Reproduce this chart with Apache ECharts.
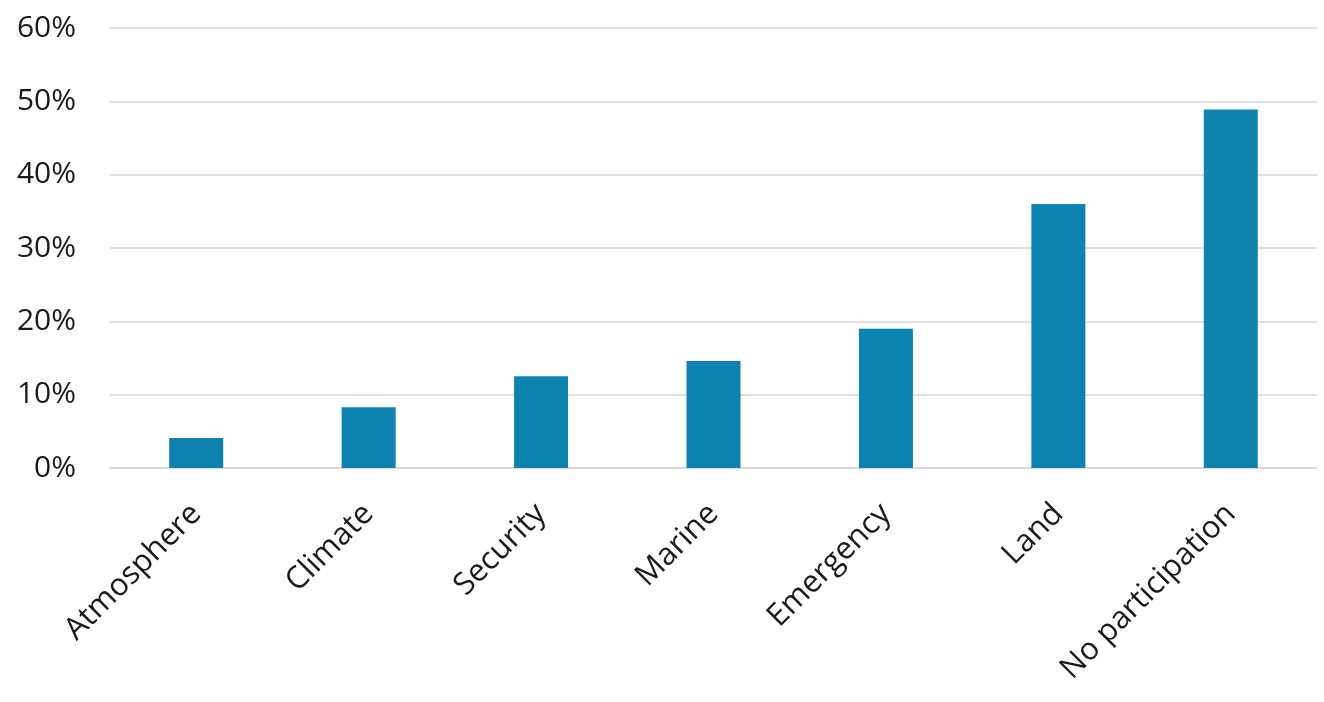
<!DOCTYPE html>
<html>
<head>
<meta charset="utf-8">
<script src="https://cdn.jsdelivr.net/npm/echarts@6/dist/echarts.min.js"></script>
<style>
  html, body { margin: 0; padding: 0; background: #ffffff; }
  #chart { width: 1324px; height: 702px; }
</style>
</head>
<body>
<div id="chart"></div>
<script>
// categories and shares (percent)
var categories = ['Atmosphere', 'Climate', 'Security', 'Marine', 'Emergency', 'Land', 'No participation'];
var shares = [4.1, 8.3, 12.5, 14.6, 19.0, 36.0, 48.9];
var yTicks = [0, 10, 20, 30, 40, 50, 60];

var chart = echarts.init(document.getElementById('chart'));
chart.setOption({
  animation: false,
  textStyle: { fontFamily: 'Open Sans' },
  grid: { left: 110, right: 7, top: 28, bottom: 234 },
  xAxis: {
    type: 'category',
    data: categories,
    axisTick: { show: false },
    axisLine: { lineStyle: { color: '#d6d6d6', width: 1.5 } },
    axisLabel: {
      rotate: 45,
      interval: 0,
      margin: 41,
      color: '#1a1a1a',
      fontSize: 31,
      fontFamily: 'Open Sans'
    }
  },
  yAxis: {
    type: 'value',
    min: yTicks[0],
    max: yTicks[yTicks.length - 1],
    interval: 10,
    axisLine: { show: false },
    axisTick: { show: false },
    splitLine: { lineStyle: { color: '#d6d6d6', width: 1.5 } },
    axisLabel: {
      margin: 34,
      color: '#1a1a1a',
      fontSize: 30,
      fontFamily: 'Open Sans',
      formatter: '{value}%'
    }
  },
  series: [
    {
      type: 'bar',
      data: shares,
      barWidth: 54,
      itemStyle: { color: '#0e83b0' }
    }
  ]
});
</script>
</body>
</html>
